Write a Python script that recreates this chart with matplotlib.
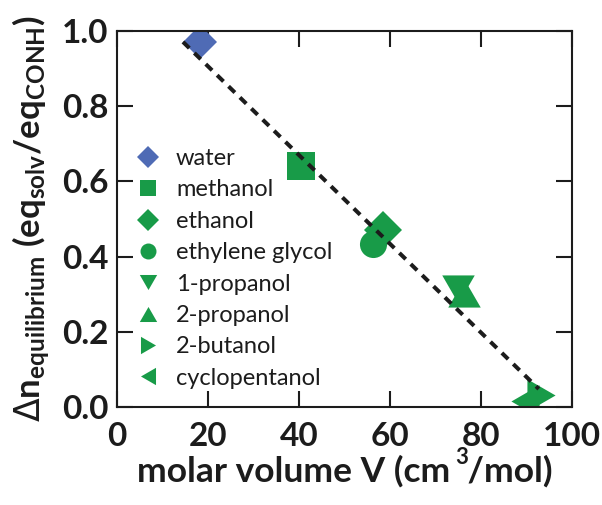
import matplotlib
matplotlib.use("Agg")
import matplotlib.pyplot as plt
from matplotlib.lines import Line2D

plt.rcParams['font.family'] = ['Lato', 'DejaVu Sans']
plt.rcParams['mathtext.fontset'] = 'custom'
plt.rcParams['mathtext.rm'] = 'DejaVu Sans'
plt.rcParams['mathtext.bf'] = 'Lato:bold'
plt.rcParams['mathtext.it'] = 'Lato:italic'
plt.rcParams['mathtext.sf'] = 'Lato'

# solvent data: molar volume (cm^3/mol) vs. equilibrium solvent uptake
solvents = ["water", "methanol", "ethanol", "ethylene glycol",
            "1-propanol", "2-propanol", "2-butanol", "cyclopentanol"]
molar_volume = [18.3, 40.5, 58.4, 56.2, 75.0, 76.3, 93.2, 89.6]
delta_n = [0.971, 0.641, 0.471, 0.434, 0.314, 0.303, 0.033, 0.017]

# linear trend line
fit_volume = [14.5, 92.7]
fit_delta_n = [0.971, 0.048]

x_ticks = [0, 20, 40, 60, 80, 100]
y_ticks = [0.0, 0.2, 0.4, 0.6, 0.8, 1.0]
y_tick_labels = ["0.0", "0.2", "0.4", "0.6", "0.8", "1.0"]

BLUE = "#4F6BB5"
GREEN = "#189B48"
INK = "#1c1c1c"

# equilateral triangles (the built-in ones are as tall as they are wide)
h = 3 ** 0.5 / 2
tri_down = [(-0.5, h / 2), (0.5, h / 2), (0.0, -h / 2), (-0.5, h / 2)]
tri_up = [(-0.5, -h / 2), (0.5, -h / 2), (0.0, h / 2), (-0.5, -h / 2)]
tri_right = [(-h / 2, -0.5), (-h / 2, 0.5), (h / 2, 0.0), (-h / 2, -0.5)]
tri_left = [(h / 2, -0.5), (h / 2, 0.5), (-h / 2, 0.0), (h / 2, -0.5)]

markers = ["D", "s", "D", "o", tri_down, tri_up, tri_right, tri_left]
colors = [BLUE] + [GREEN] * 7
plot_sizes = [17.5, 20.0, 19.5, 19.5, 23.4, 23.4, 23.4, 23.4]
legend_sizes = [11.7, 12.2, 11.7, 11.5, 12.5, 12.5, 12.5, 12.5]

fig = plt.figure(figsize=(6.02, 5.05), dpi=100)
ax = fig.add_axes([117 / 602, 1 - 407 / 505, 455 / 602, 376 / 505])

for v, dn, m, c, s in zip(molar_volume, delta_n, markers, colors, plot_sizes):
    ax.plot([v], [dn], linestyle="none", marker=m, markersize=s,
            color=c, markeredgewidth=0, zorder=2)

ax.plot(fit_volume, fit_delta_n, color=INK, linewidth=2.9,
        linestyle=(0, (2.2, 1.75)), dash_capstyle="butt", zorder=3)

ax.set_xlim(0, 100)
ax.set_ylim(0, 1.0)
ax.set_xticks(x_ticks)
ax.set_yticks(y_ticks)
ax.set_yticklabels(y_tick_labels)

for side in ["left", "right", "top", "bottom"]:
    ax.spines[side].set_linewidth(1.5)
    ax.spines[side].set_color(INK)

ax.tick_params(axis="both", which="major", direction="in", length=11.5,
               width=1.5, color=INK, top=True, right=True,
               labelsize=24, labelcolor=INK)
ax.tick_params(axis="x", pad=11)
ax.tick_params(axis="y", pad=6)
for lab in ax.get_xticklabels() + ax.get_yticklabels():
    lab.set_fontweight("bold")

ax.set_xlabel("molar volume V (cm  /mol)", fontsize=25.5, fontweight="bold",
              color=INK, labelpad=3)
fig.text(462 / 602, 1 - 458 / 505, "3", fontsize=16, fontweight="bold",
         color=INK, ha="center", va="center")

ax.set_ylabel(r"$\mathrm{\Delta}$n$_{\mathbf{equilibrium}}$ (eq$_{\mathbf{solv}}$/eq$_{\mathbf{CONH}}$)",
              fontsize=25, fontweight="bold", color=INK, labelpad=7)

handles = [Line2D([], [], linestyle="none", marker=m, markersize=s,
                  color=c, markeredgewidth=0)
           for m, c, s in zip(markers, colors, legend_sizes)]
ax.legend(handles, solvents, loc="upper left",
          bbox_to_anchor=(136 / 602, 1 - 148 / 505),
          bbox_transform=fig.transFigure, frameon=False, fontsize=17,
          handlelength=1.0, handletextpad=0.69, labelspacing=0.44,
          borderpad=0, borderaxespad=0, labelcolor=INK)

fig.savefig("out.png", dpi=100)
